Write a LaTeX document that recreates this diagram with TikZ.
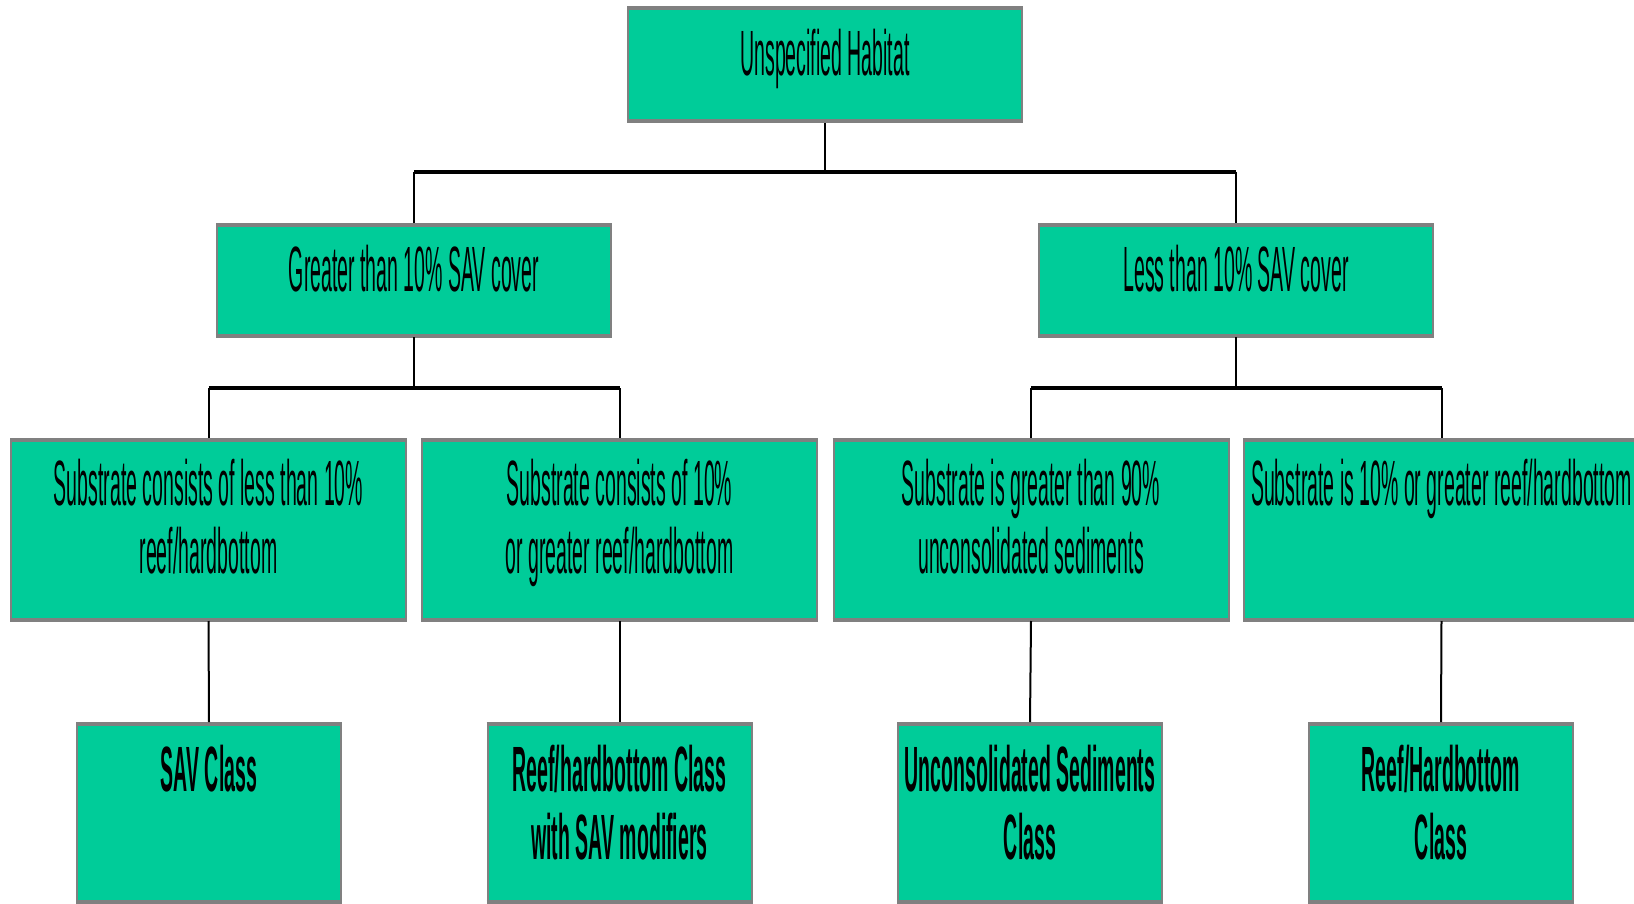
\documentclass[tikz,border=0pt]{standalone}
\usepackage{fontspec}
\usetikzlibrary{calc}
\newfontfamily\condfont[FakeStretch=0.305]{Liberation Sans}
\definecolor{boxgreen}{RGB}{0,204,153}
\definecolor{boxgray}{RGB}{128,128,128}
\newcommand{\twol}[2]{\begin{tabular}[t]{@{}c@{}}#1\\#2\end{tabular}}
\tikzset{
  box/.style={draw=boxgray, line width=1pt, fill=boxgreen, inner sep=0pt},
  lbl/.style={anchor=base, inner sep=0pt, font=\condfont\fontsize{32}{34}\selectfont},
  blbl/.style={lbl, font=\condfont\bfseries\fontsize{32}{34}\selectfont},
  conn/.style={line width=1pt, black},
  bus/.style={line width=2pt, black},
  edge/.style={draw=boxgray, line width=2pt}
}
\begin{document}
\begin{tikzpicture}[x=0.5pt, y=-0.5pt]
\useasboundingbox (0,0) rectangle (1634,904);
\clip (0,0) rectangle (1634,904);
% level 1
\node[box, minimum width=197pt, minimum height=57pt] (top) at (825,65) {};
% level 2
\node[box, minimum width=197pt, minimum height=56pt] (gt) at (414,280) {};
\node[box, minimum width=197pt, minimum height=56pt] (lt) at (1236,280) {};
% level 3
\node[box, minimum width=197.5pt, minimum height=90.5pt] (sa) at (208.5,529.5) {};
\node[box, minimum width=197.5pt, minimum height=90.5pt] (sb) at (619.5,529.5) {};
\node[box, minimum width=197.5pt, minimum height=90.5pt] (sc) at (1031,529.5) {};
\node[box, minimum width=197.5pt, minimum height=90.5pt] (sd) at (1441.5,529.5) {};
% level 4
\node[box, minimum width=132pt, minimum height=89.5pt] (ca) at (209,812.5) {};
\node[box, minimum width=132pt, minimum height=89.5pt] (cb) at (619.5,812.5) {};
\node[box, minimum width=132pt, minimum height=89.5pt] (cc) at (1030,812.5) {};
\node[box, minimum width=132pt, minimum height=89.5pt] (cd) at (1441,812.5) {};
% thicker top and bottom edges (drawn just inside the box)
\foreach \b in {top,gt,lt,sa,sb,sc,sd,ca,cb,cc,cd}{
  \draw[edge] ($(\b.north west)+(0,1.5)$) -- ($(\b.north east)+(0,1.5)$);
  \draw[edge] ($(\b.south west)+(0,-1.5)$) -- ($(\b.south east)+(0,-1.5)$);
}
% texts
\node[lbl] (ttop) at ($(top.north)+(0,69)$) {Unspecified Habitat};
\node[lbl] (tgt) at ($(gt.north)+(0,68)$) {Greater than 10\% SAV cover};
\node[lbl] (tlt) at ($(lt.north)+(0,68)$) {Less than 10\% SAV cover};
\node[lbl] (tsa) at ($(sa.north)+(0,67)$) {\twol{Substrate consists of less than 10\%}{reef/hardbottom}};
\node[lbl] (tsb) at ($(sb.north)+(0,67)$) {\twol{Substrate consists of 10\%}{or greater reef/hardbottom}};
\node[lbl] (tsc) at ($(sc.north)+(0,67)$) {\twol{Substrate is greater than 90\%}{unconsolidated sediments}};
\node[lbl] (tsd) at ($(sd.north)+(0,67)$) {Substrate is 10\% or greater reef/hardbottom};
\node[blbl] (tca) at ($(ca.north)+(0,69)$) {SAV Class};
\node[blbl] (tcb) at ($(cb.north)+(0,69)$) {\twol{Reef/hardbottom Class}{with SAV modifiers}};
\node[blbl] (tcc) at ($(cc.north)+(0,69)$) {\twol{Unconsolidated Sediments}{Class}};
\node[blbl] (tcd) at ($(cd.north)+(0,69)$) {\twol{Reef/Hardbottom}{Class}};
% connectors level 1 -> 2
\coordinate (bus1) at (825,172);
\draw[conn] (top.south) -- (bus1);
\draw[bus] (gt.north |- bus1) -- (lt.north |- bus1);
\draw[conn] (gt.north |- bus1) -- (gt.north);
\draw[conn] (lt.north |- bus1) -- (lt.north);
% level 2 -> 3
\coordinate (bus2) at (414,388);
\coordinate (bus3) at (1236,388);
\draw[conn] (gt.south) -- (bus2);
\draw[conn] (lt.south) -- (bus3);
\draw[bus] (sa.north |- bus2) -- (sb.north |- bus2);
\draw[bus] (sc.north |- bus3) -- (sd.north |- bus3);
\draw[conn] (sa.north |- bus2) -- (sa.north);
\draw[conn] (sb.north |- bus2) -- (sb.north);
\draw[conn] (sc.north |- bus3) -- (sc.north);
\draw[conn] (sd.north |- bus3) -- (sd.north);
% level 3 -> 4
\draw[conn] (sa.south) -- (ca.north);
\draw[conn] (sb.south) -- (cb.north);
\draw[conn] (sc.south) -- (cc.north);
\draw[conn] (sd.south) -- (cd.north);
\end{tikzpicture}
\end{document}
